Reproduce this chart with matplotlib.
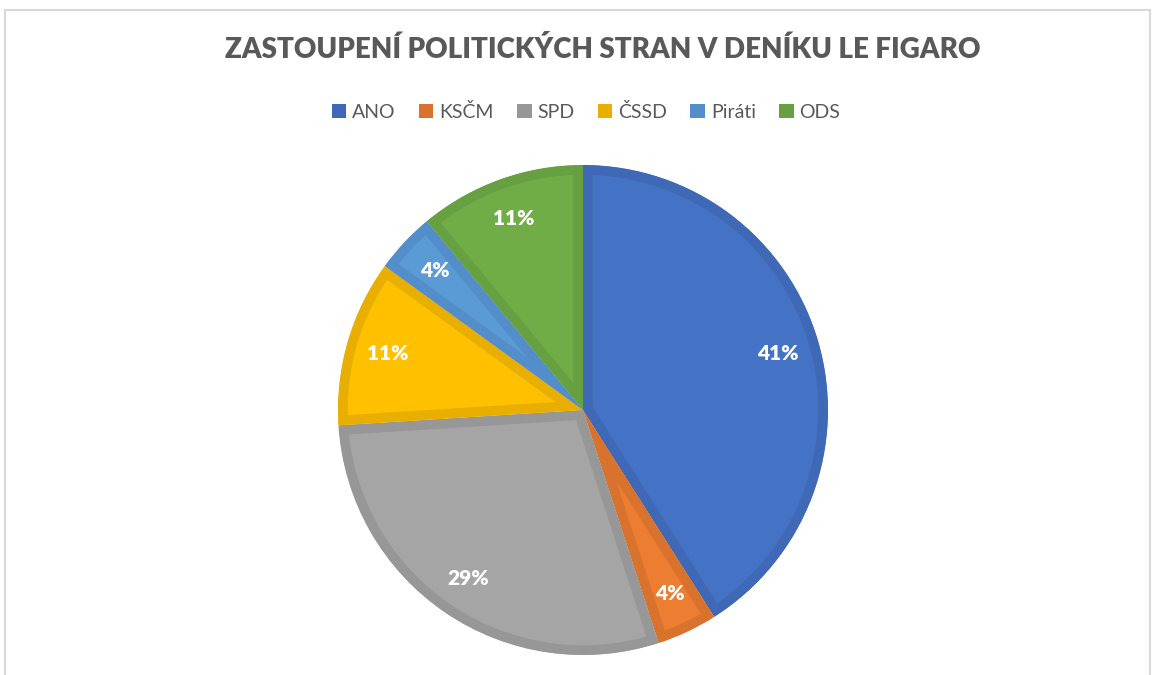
import matplotlib.pyplot as plt
from matplotlib.patches import Patch, Rectangle

strany = ["ANO", "KSČM", "SPD", "ČSSD", "Piráti", "ODS"]
podil = [41, 4, 29, 11, 4, 11]
barvy = ["#4472C4", "#ED7D31", "#A5A5A5", "#FFC000", "#5B9BD5", "#70AD47"]
okraje = ["#3F69B6", "#D9722C", "#979797", "#E8AF00", "#538ECA", "#66A041"]

plt.rcParams['font.family'] = ['Lato', 'DejaVu Sans']

fig = plt.figure(figsize=(11.52, 6.75), dpi=100)

# light frame around the chart
fig.patches.append(Rectangle((5 / 1152, -0.01), 1145 / 1152, 1 - 10 / 675 + 0.01,
                             transform=fig.transFigure, fill=False,
                             edgecolor="#D9D9D9", linewidth=1.5))

ax = fig.add_axes([(583 - 245) / 1152, 20 / 675, 490 / 1152, 490 / 675])
wedges, texts, autotexts = ax.pie(podil, colors=barvy, startangle=90, counterclock=False,
                                  radius=1, autopct='%1.0f%%', pctdistance=0.83,
                                  textprops=dict(color="white", fontsize=15, fontweight="heavy"))
for w, c in zip(wedges, okraje):
    w.set_edgecolor(c)
    w.set_linewidth(14)
    w.set_clip_on(True)
    w.set_clip_path(w.get_path(), w.get_transform())
ax.set_xlim(-1, 1)
ax.set_ylim(-1, 1)
ax.set_aspect('equal')
ax.axis('off')

fig.text(603 / 1152, 1 - 50 / 675, "ZASTOUPENÍ POLITICKÝCH STRAN V DENÍKU LE FIGARO",
         ha="center", va="center", fontsize=20, fontweight="heavy", color="#595959")

handles = [Patch(facecolor=c, edgecolor="none") for c in okraje]
fig.legend(handles, strany, loc="center", bbox_to_anchor=(586 / 1152, 1 - 112 / 675),
           ncol=6, frameon=False, fontsize=14, handlelength=0.75, handleheight=0.75,
           handletextpad=0.3, columnspacing=1.2, labelcolor="#595959")

fig.savefig("out.png", dpi=100)
